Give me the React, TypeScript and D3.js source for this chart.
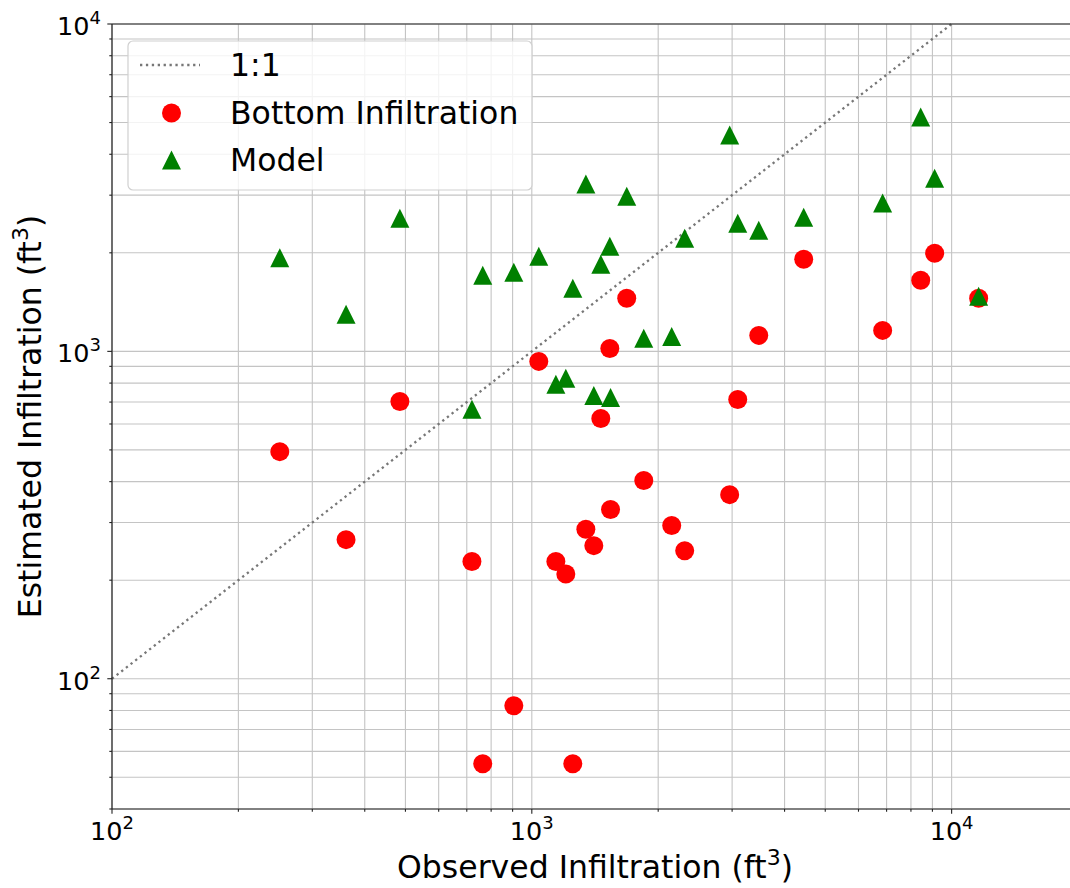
import React, { useRef, useEffect } from 'react'
import * as d3 from 'd3'

// observed volume (x) with the two estimates
const observed = [251, 361, 485, 720, 764, 906, 1039, 1141, 1205, 1252, 1345, 1405, 1460, 1534, 1540, 1683, 1848, 2154, 2313, 2960, 3094, 3472, 4443, 6850, 8440, 9111, 11597]
const bottomInfiltration = [494, 266, 703, 228, 55, 82.7, 932, 228, 209, 55, 286, 255, 624, 1021, 329, 1452, 403, 294, 246, 365, 713, 1119, 1912, 1159, 1649, 1994, 1452]
const model = [1932, 1298, 2550, 665, 1708, 1744, 1952, 793, 827, 1558, 3243, 733, 1845, 2096, 723, 2979, 1096, 1111, 2216, 4578, 2462, 2344, 2568, 2837, 5195, 3381, 1473]

const xDomain = [100, 20000]
const yDomain = [40, 10000]
const oneToOne = [100, 10000]
const majorTicks = [100, 1000, 10000]
const legendLabels = ['1:1', 'Bottom Infiltration', 'Model']

const W = 1070
const H = 888
const FONT = 'DejaVu Sans, sans-serif'

const App = () => {
  const svgRef = useRef(null)

  useEffect(() => {
    const margin = { top: 24, right: 1078, bottom: 809, left: 112 }
    const x = d3.scaleLog().domain(xDomain).range([margin.left, margin.right])
    const y = d3.scaleLog().domain(yDomain).range([margin.bottom, margin.top])

    const svg = d3.select(svgRef.current)
    svg.selectAll('*').remove()

    const isMajor = (v) => majorTicks.includes(Math.round(v))
    const exp = (v) => Math.round(Math.log10(v))

    // grid (major and minor)
    const grid = svg.append('g').attr('stroke', '#c4c4c4').attr('stroke-width', 1.1)
    grid.selectAll('.gx').data(x.ticks()).join('line')
      .attr('x1', (d) => x(d)).attr('x2', (d) => x(d))
      .attr('y1', margin.top).attr('y2', margin.bottom)
    grid.selectAll('.gy').data(y.ticks()).join('line')
      .attr('class', 'gy')
      .attr('x1', margin.left).attr('x2', margin.right)
      .attr('y1', (d) => y(d)).attr('y2', (d) => y(d))

    // 1:1 line
    svg.append('line')
      .attr('x1', x(oneToOne[0])).attr('y1', y(oneToOne[0]))
      .attr('x2', x(oneToOne[1])).attr('y2', y(oneToOne[1]))
      .attr('stroke', '#777').attr('stroke-width', 2.3)
      .attr('stroke-dasharray', '2.3,3.6')

    const triPath = (cx, cy, s) => `M${cx},${cy - s / 2}L${cx + s / 2},${cy + s / 2}L${cx - s / 2},${cy + s / 2}Z`

    svg.append('g').selectAll('circle')
      .data(observed.map((o, i) => [o, bottomInfiltration[i]]))
      .join('circle')
      .attr('cx', (d) => x(d[0])).attr('cy', (d) => y(d[1]))
      .attr('r', 9.5).attr('fill', '#ff0000')

    svg.append('g').selectAll('path')
      .data(observed.map((o, i) => [o, model[i]]))
      .join('path')
      .attr('d', (d) => triPath(x(d[0]), y(d[1]), 19))
      .attr('fill', '#008000')

    // spines
    const spine = svg.append('g').attr('stroke', '#222').attr('stroke-width', 1.2)
    spine.append('line').attr('x1', margin.left).attr('x2', margin.left).attr('y1', margin.top).attr('y2', margin.bottom)
    spine.append('line').attr('x1', margin.left).attr('x2', margin.right).attr('y1', margin.bottom).attr('y2', margin.bottom)
    spine.append('line').attr('x1', margin.left).attr('x2', margin.right).attr('y1', margin.top).attr('y2', margin.top)
    spine.append('line').attr('x1', margin.right).attr('x2', margin.right).attr('y1', margin.top).attr('y2', margin.bottom)

    // ticks
    const ticks = svg.append('g').attr('stroke', '#222').attr('stroke-width', 1.1)
    ticks.selectAll('.tx').data(x.ticks()).join('line')
      .attr('x1', (d) => x(d)).attr('x2', (d) => x(d))
      .attr('y1', margin.bottom).attr('y2', (d) => margin.bottom + (isMajor(d) ? 4.7 : 2.7))
    ticks.selectAll('.ty').data(y.ticks()).join('line')
      .attr('class', 'ty')
      .attr('y1', (d) => y(d)).attr('y2', (d) => y(d))
      .attr('x1', margin.left).attr('x2', (d) => margin.left - (isMajor(d) ? 4.7 : 2.7))

    const labels = svg.append('g').attr('font-family', FONT).attr('fill', '#000')
    const xl = labels.selectAll('.lx').data(majorTicks).join('text')
      .attr('x', (d) => x(d)).attr('y', 840)
      .attr('text-anchor', 'middle').attr('font-size', 25.5)
    xl.append('tspan').text('10')
    xl.append('tspan').attr('font-size', 18).attr('dy', -11).text((d) => exp(d))

    const yl = labels.selectAll('.ly').data(majorTicks).join('text')
      .attr('class', 'ly')
      .attr('x', 101).attr('y', (d) => y(d) + 11)
      .attr('text-anchor', 'end').attr('font-size', 25.5)
    yl.append('tspan').text('10')
    yl.append('tspan').attr('font-size', 18).attr('dy', -11).text((d) => exp(d))

    // axis titles
    const xt = labels.append('text')
      .attr('x', (margin.left + margin.right) / 2).attr('y', 878)
      .attr('text-anchor', 'middle').attr('font-size', 31.5)
    xt.append('tspan').text('Observed Infiltration (ft')
    xt.append('tspan').attr('font-size', 22).attr('dy', -13).text('3')
    xt.append('tspan').attr('dy', 13).text(')')

    const yt = labels.append('text')
      .attr('transform', `translate(41,${(margin.top + margin.bottom) / 2}) rotate(-90)`)
      .attr('text-anchor', 'middle').attr('font-size', 31.5)
    yt.append('tspan').text('Estimated Infiltration (ft')
    yt.append('tspan').attr('font-size', 22).attr('dy', -13).text('3')
    yt.append('tspan').attr('dy', 13).text(')')

    // legend
    const lg = svg.append('g')
    lg.append('rect')
      .attr('x', 128).attr('y', 41).attr('width', 404).attr('height', 149).attr('rx', 5)
      .attr('fill', 'white').attr('fill-opacity', 0.8)
      .attr('stroke', '#d0d0d0').attr('stroke-width', 1.2)
    const rowY = [65, 113, 160]
    lg.append('line')
      .attr('x1', 140).attr('x2', 200).attr('y1', rowY[0]).attr('y2', rowY[0])
      .attr('stroke', '#777').attr('stroke-width', 2.3).attr('stroke-dasharray', '2.3,3.6')
    lg.append('circle').attr('cx', 171.5).attr('cy', rowY[1]).attr('r', 9.5).attr('fill', '#ff0000')
    lg.append('path').attr('d', triPath(171.5, rowY[2], 19)).attr('fill', '#008000')
    lg.selectAll('text').data(legendLabels).join('text')
      .attr('x', 230).attr('y', (d, i) => rowY[i] + 11)
      .attr('font-family', FONT).attr('font-size', 31.5)
      .text((d) => d)
  }, [])

  return (
    <svg
      ref={svgRef}
      width={W}
      height={H}
      style={{ position: 'absolute', left: 0, top: 0, background: 'white' }}
    />
  )
}

export default App
